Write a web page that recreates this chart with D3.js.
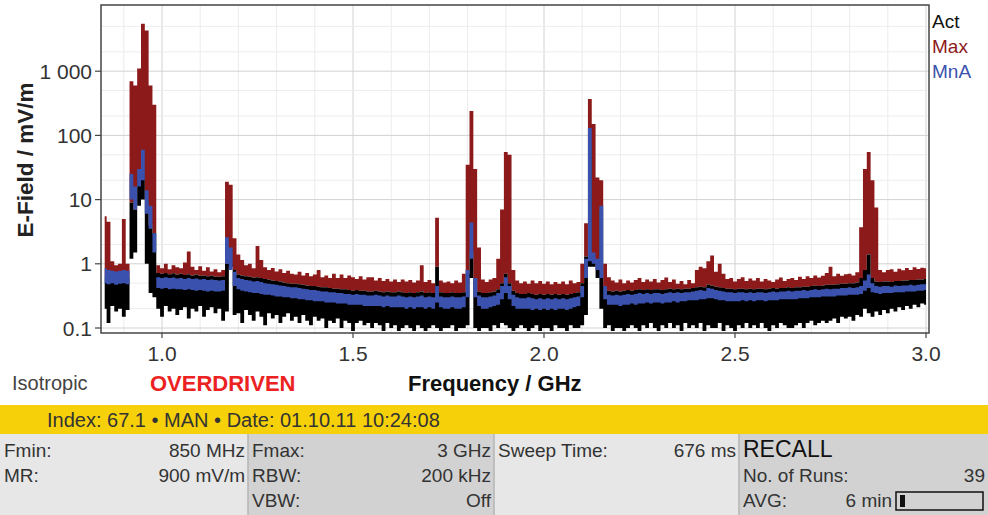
<!DOCTYPE html>
<html>
<head>
<meta charset="utf-8">
<script src="https://cdn.jsdelivr.net/npm/d3@7"></script>
<style>
body { margin: 0; background: #fff; }
svg { display: block; font-family: "Liberation Sans", Arial, sans-serif; }
</style>
</head>
<body>
<script>

// sweep grid: 850 MHz .. 3 GHz, one bin every 10 MHz (216 bins)
var fStart = 0.85, fStep = 0.01;

// Max trace, upper envelope (mV/m)
var maxHi = [5.5,4.5,1.1,0.95,1.0,5.0,1.0,700,600,1100,
  5500,4300,600,300,0.95,0.85,1.0,0.82,0.95,0.88,
  0.85,1.05,1.55,0.9,0.8,0.92,0.78,0.88,0.76,0.82,
  0.74,0.8,19,17,2.5,1.4,1.15,0.95,1.0,0.85,
  1.9,1.15,0.88,0.8,0.86,0.76,0.82,0.72,0.78,0.7,
  0.68,0.75,0.66,0.72,0.64,0.68,0.8,0.62,0.66,0.6,
  0.7,0.6,0.68,0.6,0.66,0.62,0.58,0.64,0.57,0.62,
  0.62,0.55,0.6,0.54,0.58,0.53,0.57,0.52,0.57,0.53,
  0.56,0.51,0.55,0.95,0.52,0.56,0.5,5.2,0.55,0.51,
  0.53,0.5,0.55,0.51,0.7,35,240,30,1.8,0.57,
  0.52,0.57,0.6,1.2,7,55,50,0.8,0.55,0.5,
  0.53,0.49,0.55,0.5,0.54,0.49,0.53,0.48,0.52,0.49,
  0.53,0.48,0.55,0.5,0.52,1.0,4.3,370,150,22,
  20,1.0,0.62,0.55,0.51,0.57,0.5,0.55,0.51,0.56,
  0.6,0.52,0.57,0.53,0.58,0.51,0.56,0.61,0.52,0.57,
  0.49,0.54,0.48,0.56,0.5,0.8,0.9,0.85,1.1,1.35,
  0.75,1.0,0.7,0.58,0.6,0.53,0.58,0.62,0.54,0.59,
  0.55,0.6,0.53,0.58,0.55,0.52,0.57,0.61,0.54,0.58,
  0.6,0.56,0.63,0.58,0.64,0.6,0.66,0.61,0.65,0.72,
  0.9,0.64,0.7,0.65,0.69,0.7,0.66,0.74,3.7,30,
  55,20,7.5,0.8,0.74,0.8,0.82,0.75,0.84,0.79,
  0.86,0.8,0.88,0.83,0.87,0.85];

// Act trace, upper and lower envelope
var actHi = [0.62,0.6,0.58,0.6,0.58,0.6,0.6,9,7,22,
  25,10,4,3,0.72,0.7,0.72,0.69,0.71,0.68,
  0.7,0.67,0.69,0.66,0.68,0.65,0.66,0.64,0.65,0.63,
  0.63,0.64,1.0,0.9,0.8,0.68,0.66,0.64,0.63,0.61,
  0.62,0.6,0.58,0.57,0.55,0.54,0.53,0.51,0.5,0.49,
  0.49,0.48,0.47,0.46,0.45,0.45,0.44,0.43,0.43,0.42,
  0.41,0.41,0.4,0.4,0.39,0.38,0.39,0.38,0.38,0.37,
  0.37,0.38,0.37,0.36,0.37,0.36,0.36,0.37,0.36,0.35,
  0.36,0.35,0.36,0.37,0.35,0.36,0.35,0.9,0.36,0.35,
  0.35,0.36,0.35,0.35,0.36,0.7,1.5,0.6,0.37,0.35,
  0.35,0.36,0.37,0.4,0.5,0.7,0.5,0.38,0.35,0.34,
  0.34,0.35,0.34,0.33,0.34,0.33,0.34,0.33,0.34,0.33,
  0.34,0.33,0.34,0.35,0.36,0.5,1.3,70,1.2,0.9,
  7,0.45,0.38,0.37,0.38,0.37,0.38,0.39,0.38,0.39,
  0.4,0.39,0.4,0.39,0.4,0.4,0.39,0.4,0.41,0.4,
  0.41,0.4,0.41,0.41,0.42,0.43,0.44,0.43,0.47,0.46,
  0.44,0.43,0.42,0.41,0.41,0.4,0.41,0.41,0.4,0.41,
  0.4,0.41,0.41,0.4,0.41,0.42,0.41,0.42,0.42,0.43,
  0.42,0.43,0.43,0.44,0.44,0.45,0.46,0.45,0.46,0.47,
  0.47,0.47,0.48,0.49,0.49,0.5,0.5,0.51,0.6,0.8,
  1.4,0.6,0.53,0.52,0.53,0.53,0.52,0.54,0.54,0.55,
  0.55,0.56,0.56,0.57,0.57,0.58];

var actLo = [0.2,0.12,0.22,0.18,0.2,0.15,0.19,1.2,1.5,8,
  10,1.0,0.35,0.3,0.2,0.15,0.22,0.18,0.2,0.16,
  0.19,0.21,0.14,0.2,0.18,0.22,0.15,0.19,0.21,0.17,
  0.2,0.13,0.18,1.0,0.16,0.17,0.12,0.19,0.16,0.13,
  0.18,0.15,0.11,0.17,0.14,0.16,0.12,0.15,0.17,0.13,
  0.15,0.12,0.16,0.13,0.11,0.15,0.13,0.14,0.1,0.13,
  0.12,0.14,0.1,0.13,0.12,0.09,0.12,0.13,0.11,0.12,
  0.1,0.12,0.11,0.09,0.12,0.1,0.11,0.09,0.1,0.11,
  0.1,0.09,0.11,0.1,0.09,0.1,0.11,0.1,0.09,0.1,
  0.1,0.11,0.09,0.1,0.1,0.11,0.6,0.1,0.09,0.1,
  0.1,0.09,0.11,0.1,0.12,0.11,0.1,0.09,0.1,0.11,
  0.1,0.09,0.1,0.11,0.09,0.1,0.1,0.09,0.11,0.1,
  0.1,0.09,0.11,0.1,0.1,0.11,0.16,0.9,0.9,0.6,
  0.2,0.1,0.11,0.09,0.1,0.1,0.09,0.1,0.11,0.1,
  0.09,0.11,0.1,0.12,0.1,0.09,0.11,0.1,0.12,0.1,
  0.11,0.09,0.12,0.1,0.11,0.1,0.12,0.09,0.11,0.1,
  0.1,0.12,0.09,0.11,0.1,0.09,0.11,0.1,0.12,0.1,
  0.11,0.1,0.12,0.1,0.09,0.11,0.1,0.12,0.11,0.1,
  0.1,0.11,0.12,0.1,0.12,0.13,0.11,0.12,0.13,0.12,
  0.13,0.14,0.12,0.15,0.14,0.15,0.13,0.16,0.15,0.2,
  0.17,0.15,0.18,0.16,0.19,0.17,0.2,0.18,0.21,0.19,
  0.22,0.2,0.23,0.21,0.24,0.23];

// MnA trace, upper and lower envelope
var mnaHi = [0.85,0.8,0.78,0.76,0.78,0.8,0.78,25,16,30,
  60,14,8,3,0.62,0.6,0.62,0.6,0.61,0.59,
  0.6,0.58,0.6,0.58,0.59,0.57,0.58,0.56,0.57,0.56,
  0.55,0.56,2.6,1.8,0.75,0.6,0.58,0.56,0.55,0.53,
  0.54,0.52,0.5,0.49,0.48,0.47,0.46,0.45,0.44,0.43,
  0.43,0.42,0.41,0.4,0.39,0.39,0.38,0.37,0.37,0.36,
  0.36,0.35,0.35,0.34,0.34,0.33,0.34,0.33,0.33,0.32,
  0.32,0.33,0.32,0.31,0.32,0.31,0.31,0.32,0.31,0.3,
  0.31,0.3,0.31,0.32,0.3,0.31,0.3,0.45,0.31,0.3,
  0.3,0.31,0.3,0.3,0.31,0.8,4.4,0.6,0.32,0.3,
  0.3,0.31,0.32,0.35,0.45,0.62,0.45,0.33,0.3,0.29,
  0.29,0.3,0.29,0.28,0.29,0.28,0.29,0.28,0.29,0.28,
  0.29,0.28,0.29,0.3,0.31,0.45,1.2,130,1.5,1.2,
  8,0.45,0.33,0.32,0.33,0.32,0.33,0.34,0.33,0.34,
  0.35,0.34,0.35,0.34,0.35,0.35,0.34,0.35,0.36,0.35,
  0.36,0.35,0.36,0.36,0.37,0.38,0.39,0.38,0.42,0.41,
  0.39,0.38,0.37,0.36,0.36,0.35,0.36,0.36,0.35,0.36,
  0.35,0.36,0.36,0.35,0.36,0.37,0.36,0.37,0.37,0.38,
  0.37,0.38,0.38,0.39,0.38,0.39,0.4,0.39,0.4,0.41,
  0.4,0.41,0.41,0.42,0.42,0.43,0.42,0.43,0.45,0.55,
  0.68,0.5,0.45,0.44,0.45,0.45,0.44,0.46,0.45,0.46,
  0.46,0.47,0.46,0.47,0.48,0.48];

var mnaLo = [0.5,0.48,0.5,0.47,0.49,0.5,0.48,10,7,16,
  20,6,3.5,1.5,0.42,0.41,0.42,0.4,0.41,0.4,
  0.4,0.39,0.4,0.39,0.38,0.39,0.38,0.37,0.38,0.37,
  0.37,0.38,1.0,0.8,0.45,0.4,0.38,0.37,0.36,0.35,
  0.35,0.34,0.33,0.33,0.32,0.31,0.31,0.3,0.3,0.29,
  0.29,0.28,0.28,0.27,0.27,0.26,0.26,0.26,0.25,0.25,
  0.25,0.24,0.24,0.24,0.23,0.23,0.23,0.23,0.22,0.22,
  0.22,0.22,0.22,0.21,0.22,0.21,0.21,0.21,0.21,0.2,
  0.21,0.2,0.21,0.21,0.2,0.21,0.2,0.25,0.21,0.2,
  0.2,0.21,0.2,0.2,0.21,0.3,1.2,0.3,0.22,0.2,
  0.2,0.21,0.22,0.23,0.28,0.35,0.28,0.22,0.2,0.2,
  0.2,0.2,0.19,0.2,0.19,0.2,0.19,0.2,0.19,0.2,
  0.2,0.19,0.2,0.21,0.22,0.3,0.6,1.1,1.0,0.8,
  0.6,0.28,0.23,0.23,0.23,0.22,0.23,0.23,0.24,0.23,
  0.24,0.24,0.25,0.24,0.25,0.25,0.24,0.25,0.25,0.26,
  0.25,0.26,0.26,0.27,0.27,0.27,0.28,0.28,0.29,0.29,
  0.28,0.27,0.27,0.26,0.26,0.26,0.26,0.27,0.26,0.27,
  0.26,0.27,0.27,0.26,0.27,0.27,0.27,0.28,0.28,0.28,
  0.28,0.28,0.29,0.29,0.29,0.3,0.3,0.3,0.31,0.31,
  0.31,0.31,0.32,0.32,0.32,0.33,0.33,0.33,0.34,0.38,
  0.42,0.36,0.35,0.34,0.35,0.35,0.35,0.36,0.36,0.36,
  0.37,0.37,0.37,0.38,0.38,0.39];

var xTicks = [1.0, 1.5, 2.0, 2.5, 3.0];
var yTicks = [0.1, 1, 10, 100, 1000];
var yTickLabels = ["0.1", "1", "10", "100", "1 000"];
var legendNames = ["Act", "Max", "MnA"];
var legendColors = ["#111111", "#8c1a1a", "#3a52ad"];

var headerText = "Index: 67.1 \u2022 MAN \u2022 Date: 01.10.11 10:24:08";
// settings panel, one list per column
var panelCols = [
  [["Fmin:", "850 MHz"], ["MR:", "900 mV/m"]],
  [["Fmax:", "3 GHz"], ["RBW:", "200 kHz"], ["VBW:", "Off"]],
  [["Sweep Time:", "676 ms"]],
  [["RECALL", ""], ["No. of Runs:", "39"], ["AVG:", "6 min"]]
];

var W = 988, H = 515;
var svg = d3.select("body").append("svg").attr("width", W).attr("height", H);

var fr = {l: 101, r: 929, t: 5, b: 333};
var x = d3.scaleLinear().domain([0.85, 3.0]).range([104.7, 926]);
var y = d3.scaleLog().domain([0.1, 10000]).range([328, 7]);

// grid
var vGrid = d3.range(9, 31).map(function(d) { return d / 10; });
svg.append("g").selectAll("line").data(vGrid).enter().append("line")
  .attr("x1", function(d) { return x(d); }).attr("x2", function(d) { return x(d); })
  .attr("y1", fr.t).attr("y2", fr.b)
  .attr("stroke", function(d) { return Math.round(d * 10) % 5 == 0 ? "#d2d2d2" : "#ececec"; })
  .attr("stroke-width", 1);

var hGrid = [];
[-1, 0, 1, 2, 3].forEach(function(e) {
  [1, 2, 5].forEach(function(m) { hGrid.push(m * Math.pow(10, e)); });
});
svg.append("g").selectAll("line").data(hGrid).enter().append("line")
  .attr("x1", fr.l).attr("x2", fr.r)
  .attr("y1", function(d) { return y(d); }).attr("y2", function(d) { return y(d); })
  .attr("stroke", function(d, i) { return i % 3 == 0 ? "#d2d2d2" : "#ececec"; })
  .attr("stroke-width", 1);

// traces
svg.append("clipPath").attr("id", "plotClip").append("rect")
  .attr("x", fr.l).attr("y", fr.t).attr("width", fr.r - fr.l).attr("height", fr.b - fr.t);
var bins = d3.range(maxHi.length);
function band(lo, hi) {
  return d3.area().curve(d3.curveStep)
    .x(function(i) { return x(fStart + i * fStep); })
    .y0(function(i) { return y(lo[i]); })
    .y1(function(i) { return y(hi[i]); })(bins);
}
var traces = svg.append("g").attr("clip-path", "url(#plotClip)");
traces.append("path").attr("d", band(actHi, maxHi)).attr("fill", legendColors[1]);
traces.append("path").attr("d", band(actLo, actHi)).attr("fill", "#000");
traces.append("path").attr("d", band(mnaLo, mnaHi)).attr("fill", legendColors[2]);

// frame and ticks
svg.append("rect").attr("x", fr.l).attr("y", fr.t).attr("width", fr.r - fr.l).attr("height", fr.b - fr.t)
  .attr("fill", "none").attr("stroke", "#444").attr("stroke-width", 1.5);

svg.append("g").selectAll("line").data(xTicks).enter().append("line")
  .attr("x1", function(d) { return x(d); }).attr("x2", function(d) { return x(d); })
  .attr("y1", fr.b).attr("y2", fr.b + 5).attr("stroke", "#444").attr("stroke-width", 1.2);
svg.append("g").selectAll("text").data(xTicks).enter().append("text")
  .attr("x", function(d) { return x(d); }).attr("y", 361)
  .attr("text-anchor", "middle").attr("font-size", 21).attr("fill", "#333")
  .text(function(d) { return d.toFixed(1); });

svg.append("g").selectAll("line").data(yTicks).enter().append("line")
  .attr("x1", fr.l - 6).attr("x2", fr.l)
  .attr("y1", function(d) { return y(d); }).attr("y2", function(d) { return y(d); })
  .attr("stroke", "#444").attr("stroke-width", 1.2);
svg.append("g").selectAll("text").data(yTicks).enter().append("text")
  .attr("x", 92).attr("y", function(d) { return y(d) + 7.5; })
  .attr("text-anchor", "end").attr("font-size", 21).attr("fill", "#333")
  .text(function(d, i) { return yTickLabels[i]; });

svg.append("text").attr("transform", "translate(33,160) rotate(-90)")
  .attr("text-anchor", "middle").attr("font-size", 22.5).attr("font-weight", "bold").attr("fill", "#222")
  .text("E-Field / mV/m");

// legend
svg.append("g").selectAll("text").data(legendNames).enter().append("text")
  .attr("x", 932).attr("y", function(d, i) { return 28 + i * 25; })
  .attr("font-size", 19).attr("fill", function(d, i) { return legendColors[i]; })
  .text(function(d) { return d; });

// bottom labels
svg.append("text").attr("x", 12).attr("y", 390).attr("font-size", 20).attr("fill", "#444").text("Isotropic");
svg.append("text").attr("x", 150).attr("y", 391).attr("font-size", 22).attr("font-weight", "bold")
  .attr("fill", "#ec2222").text("OVERDRIVEN");
svg.append("text").attr("x", 408).attr("y", 391).attr("font-size", 22).attr("font-weight", "bold")
  .attr("fill", "#111").text("Frequency / GHz");

// status bar
svg.append("rect").attr("x", 0).attr("y", 405).attr("width", W).attr("height", 29).attr("fill", "#f6d10a");
svg.append("text").attr("x", 47).attr("y", 427).attr("font-size", 20).attr("fill", "#333").text(headerText);

var colX = [0, 248, 494, 739, 988];
var colFill = ["#e7e7e7", "#d2d2d2", "#e7e7e7", "#d2d2d2"];
var rowY = [457, 482, 507];
panelCols.forEach(function(col, c) {
  svg.append("rect").attr("x", colX[c]).attr("y", 434).attr("width", colX[c + 1] - colX[c]).attr("height", H - 434)
    .attr("fill", colFill[c]);
  col.forEach(function(row, r) {
    var big = (c == 3 && r == 0);
    svg.append("text").attr("x", colX[c] + 4).attr("y", rowY[r])
      .attr("font-size", big ? 23 : 19).attr("fill", big ? "#111" : "#333").text(row[0]);
    var rx = colX[c + 1] - 3;
    if (c == 3 && r == 2) rx = 892;
    svg.append("text").attr("x", rx).attr("y", rowY[r]).attr("text-anchor", "end")
      .attr("font-size", 19).attr("fill", "#333").text(row[1]);
  });
});
svg.append("g").selectAll("line").data(colX.slice(1, 4)).enter().append("line")
  .attr("x1", function(d) { return d; }).attr("x2", function(d) { return d; })
  .attr("y1", 434).attr("y2", H).attr("stroke", "#b4b4b4").attr("stroke-width", 1.5);

// averaging progress box
svg.append("rect").attr("x", 896).attr("y", 492).attr("width", 87).attr("height", 18)
  .attr("fill", "none").attr("stroke", "#111").attr("stroke-width", 1.5);
svg.append("rect").attr("x", 900).attr("y", 495).attr("width", 5).attr("height", 12).attr("fill", "#111");

</script>
</body>
</html>
